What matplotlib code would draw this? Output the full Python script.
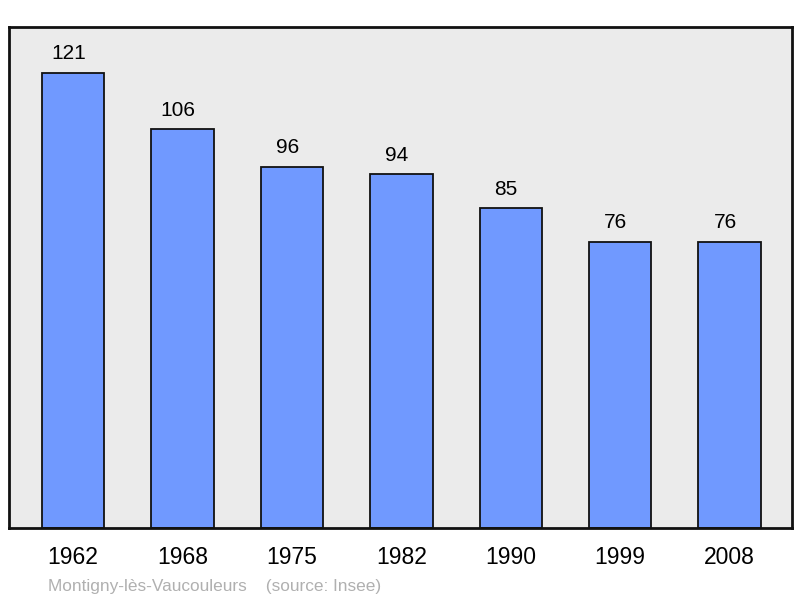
import matplotlib.pyplot as plt

plt.rcParams['font.family'] = ['Liberation Sans', 'DejaVu Sans']

# Population by census year
years = ['1962', '1968', '1975', '1982', '1990', '1999', '2008']
population = [121, 106, 96, 94, 85, 76, 76]

fig = plt.figure(figsize=(8, 5.98), dpi=100)
ax = fig.add_axes([0.01125, 0.117, 0.97875, 0.8378])
ax.set_facecolor('#ebebeb')

x = range(len(years))
bars = ax.bar(x, population, width=0.57, color='#7099ff', edgecolor='#111111', linewidth=1.3)

# value labels sit a little left of the bar centre, as in the original
for rect, v in zip(bars, population):
    ax.annotate(str(v), (rect.get_x() + rect.get_width() / 2, rect.get_height()),
                xytext=(-3.3, 7), textcoords='offset points', ha='center', va='bottom',
                fontsize=15, color='black')

ax.set_xlim(-0.585, 6.57)
ax.set_ylim(0, 133.2)
ax.set_xticks(list(x))
ax.set_xticklabels(years, fontsize=16.5)
ax.tick_params(axis='x', length=0, pad=13)
ax.set_yticks([])
for s in ax.spines.values():
    s.set_linewidth(2)
    s.set_color('#111111')

fig.text(0.06, 0.0125, 'Montigny-lès-Vaucouleurs    (source: Insee)', fontsize=12.4, color='#b0b0b0')

fig.savefig('out.png')
